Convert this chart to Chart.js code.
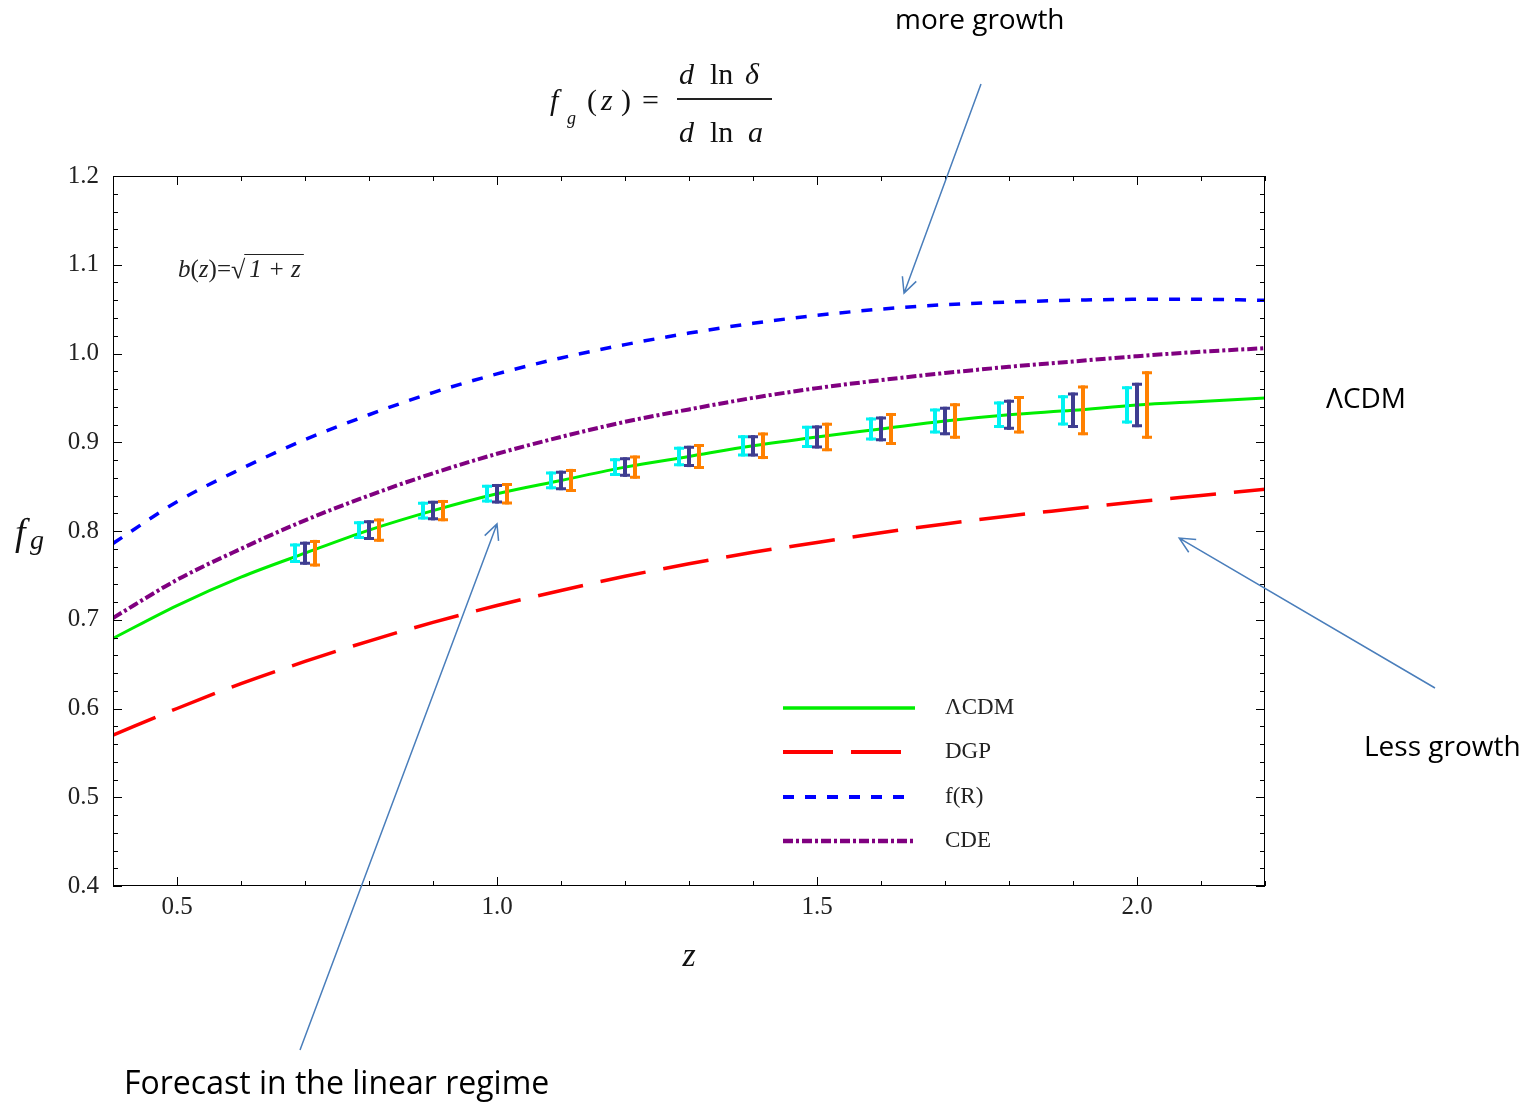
<!DOCTYPE html>
<html>
<head>
<meta charset="utf-8">
<script src="https://cdn.jsdelivr.net/npm/chart.js@4.4.1/dist/chart.umd.min.js"></script>
<style>
  html, body { margin: 0; padding: 0; background: #fff; }
  #wrap { width: 1536px; height: 1106px; }
</style>
</head>
<body>
<div id="wrap"><canvas id="growthChart" width="1536" height="1106"></canvas></div>
<script>
// redshift grid used for the model curves
const zGrid = [0.4, 0.5, 0.6, 0.7, 0.8, 0.9, 1.0, 1.1, 1.2, 1.3, 1.4, 1.5, 1.6, 1.7, 1.8, 1.9, 2.0, 2.1, 2.2];
const lcdmVals = [0.679, 0.716, 0.748, 0.775, 0.801, 0.823, 0.842, 0.857, 0.872, 0.884, 0.896, 0.906, 0.915, 0.924, 0.931, 0.936, 0.942, 0.946, 0.950];
const dgpVals = [0.570, 0.600, 0.628, 0.653, 0.676, 0.697, 0.716, 0.733, 0.749, 0.763, 0.776, 0.787, 0.798, 0.808, 0.817, 0.825, 0.833, 0.840, 0.847];
const fRVals = [0.786, 0.833, 0.870, 0.903, 0.931, 0.956, 0.977, 0.995, 1.010, 1.023, 1.034, 1.043, 1.050, 1.055, 1.058, 1.060, 1.061, 1.061, 1.060];
const cdeVals = [0.702, 0.745, 0.780, 0.812, 0.840, 0.865, 0.887, 0.906, 0.923, 0.937, 0.950, 0.961, 0.970, 0.978, 0.985, 0.991, 0.997, 1.002, 1.006];

// forecast error bars (three surveys per redshift bin)
const errZ = [0.7, 0.8, 0.9, 1.0, 1.1, 1.2, 1.3, 1.4, 1.5, 1.6, 1.7, 1.8, 1.9, 2.0];
const errCenter = [0.775, 0.801, 0.823, 0.842, 0.857, 0.872, 0.884, 0.896, 0.906, 0.915, 0.924, 0.931, 0.936, 0.942];
const errCyan = [0.011, 0.010, 0.010, 0.010, 0.010, 0.010, 0.011, 0.012, 0.0125, 0.013, 0.014, 0.015, 0.017, 0.021];
const errNavy = [0.013, 0.011, 0.011, 0.011, 0.011, 0.011, 0.012, 0.012, 0.013, 0.014, 0.016, 0.017, 0.020, 0.025];
const errOrange = [0.015, 0.013, 0.012, 0.012, 0.013, 0.013, 0.014, 0.015, 0.016, 0.018, 0.020, 0.021, 0.028, 0.038];

const xTickVals = [0.5, 1.0, 1.5, 2.0];
const legendLabels = ['\u039BCDM', 'DGP', 'f(R)', 'CDE'];

function toPoints(ys) {
    return zGrid.map((z, i) => ({ x: z, y: ys[i] }));
}

const serif = '"Liberation Serif", "DejaVu Serif", serif';
const sans = '"Open Sans", "Liberation Sans", sans-serif';
const arrowColor = '#4a7ebb';

const modelStyles = [
    { color: '#00ee00', width: 3, dash: [] },
    { color: '#ff0000', width: 3.5, dash: [46, 18] },
    { color: '#0000ff', width: 3.5, dash: [11, 11] },
    { color: '#800080', width: 4, dash: [10, 3, 3, 3] }
];

// draw a run of text pieces left to right, each with its own font
function drawRun(ctx, x, y, pieces) {
    pieces.forEach(p => {
        ctx.font = p.font;
        ctx.fillText(p.text, x + (p.dx || 0), y + (p.dy || 0));
        x += ctx.measureText(p.text).width + (p.dx || 0) + (p.gap || 0);
    });
    return x;
}

// error bars, frame ticks, legend and annotations
const decorPlugin = {
    id: 'decor',
    afterDatasetsDraw(chart) {
        const ctx = chart.ctx;
        const xs = chart.scales.x, ys = chart.scales.y;
        const bars = [
            { errs: errCyan, color: '#00f2f2', dx: -10 },
            { errs: errNavy, color: '#3f3d91', dx: 0 },
            { errs: errOrange, color: '#ff8000', dx: 10 }
        ];
        ctx.save();
        bars.forEach(b => {
            ctx.strokeStyle = b.color;
            errZ.forEach((z, i) => {
                const px = xs.getPixelForValue(z) + b.dx;
                const top = ys.getPixelForValue(errCenter[i] + b.errs[i]);
                const bot = ys.getPixelForValue(errCenter[i] - b.errs[i]);
                ctx.lineWidth = 4;
                ctx.beginPath();
                ctx.moveTo(px, top); ctx.lineTo(px, bot);
                ctx.stroke();
                ctx.lineWidth = 3;
                ctx.beginPath();
                ctx.moveTo(px - 5, top + 1.5); ctx.lineTo(px + 5, top + 1.5);
                ctx.moveTo(px - 5, bot - 1.5); ctx.lineTo(px + 5, bot - 1.5);
                ctx.stroke();
            });
        });
        ctx.restore();
    },
    afterDraw(chart) {
        const ctx = chart.ctx;
        const a = chart.chartArea;
        const xs = chart.scales.x, ys = chart.scales.y;
        ctx.save();

        // frame
        ctx.strokeStyle = '#000';
        ctx.lineWidth = 1;
        ctx.strokeRect(a.left + 0.5, a.top + 0.5, a.right - a.left - 1, a.bottom - a.top - 1);

        // inward ticks on all four sides
        ctx.beginPath();
        for (let k = 4; k <= 22; k++) {
            const px = Math.round(xs.getPixelForValue(k / 10)) + 0.5;
            const len = (k % 5 === 0) ? 9 : 5;
            ctx.moveTo(px, a.bottom); ctx.lineTo(px, a.bottom - len);
            ctx.moveTo(px, a.top); ctx.lineTo(px, a.top + len);
        }
        for (let k = 20; k <= 60; k++) {
            const py = Math.round(ys.getPixelForValue(k / 50)) + 0.5;
            const len = (k % 5 === 0) ? 9 : 5;
            ctx.moveTo(a.left, py); ctx.lineTo(a.left + len, py);
            ctx.moveTo(a.right, py); ctx.lineTo(a.right - len, py);
        }
        ctx.stroke();

        // legend inside the plot
        const rowY = [708, 752, 797, 841];
        modelStyles.forEach((s, i) => {
            ctx.strokeStyle = s.color;
            ctx.lineWidth = s.width + 0.5;
            ctx.setLineDash(i === 1 ? [50, 18] : s.dash);
            ctx.beginPath();
            ctx.moveTo(783, rowY[i]); ctx.lineTo(915, rowY[i]);
            ctx.stroke();
            ctx.setLineDash([]);
            ctx.fillStyle = '#222';
            ctx.font = '23px ' + serif;
            ctx.textBaseline = 'middle';
            ctx.textAlign = 'left';
            ctx.fillText(legendLabels[i], 945, rowY[i]);
        });

        // b(z) label
        ctx.fillStyle = '#222';
        ctx.textBaseline = 'alphabetic';
        ctx.textAlign = 'left';
        const fi = 'italic 25px ' + serif, fr = '25px ' + serif;
        let bx = drawRun(ctx, 178, 277, [
            { text: 'b', font: fi }, { text: '(', font: fr }, { text: 'z', font: fi },
            { text: ')=', font: fr }, { text: '\u221A', font: '26px ' + serif, dy: 1 }
        ]);
        const barStart = bx - 1;
        bx = drawRun(ctx, bx + 4, 277, [{ text: '1 + z', font: fi }]);
        ctx.lineWidth = 1.2;
        ctx.strokeStyle = '#222';
        ctx.beginPath();
        ctx.moveTo(barStart, 254.5); ctx.lineTo(bx + 3, 254.5);
        ctx.stroke();

        // axis titles
        ctx.fillStyle = '#111';
        ctx.font = 'italic 38px ' + serif;
        ctx.fillText('f', 15, 545);
        ctx.font = 'italic 28px ' + serif;
        ctx.fillText('g', 30, 549);
        ctx.font = 'italic 34px ' + serif;
        ctx.textAlign = 'center';
        ctx.fillText('z', (a.left + a.right) / 2, 966);

        // formula
        ctx.textAlign = 'left';
        ctx.font = 'italic 30px ' + serif;
        ctx.fillText('f', 550, 110);
        ctx.font = 'italic 18px ' + serif;
        ctx.fillText('g', 567, 124);
        ctx.font = '30px ' + serif;
        ctx.fillText('(', 587, 110);
        ctx.font = 'italic 30px ' + serif;
        ctx.fillText('z', 601, 110);
        ctx.font = '30px ' + serif;
        ctx.fillText(')', 621, 110);
        ctx.fillText('=', 642, 110);
        ctx.font = 'italic 30px ' + serif;
        ctx.fillText('d', 679, 84);
        ctx.fillText('d', 679, 142);
        ctx.font = '30px ' + serif;
        ctx.fillText('ln', 710, 84);
        ctx.fillText('ln', 710, 142);
        ctx.font = 'italic 30px ' + serif;
        ctx.fillText('\u03B4', 745, 84);
        ctx.fillText('a', 748, 142);
        ctx.lineWidth = 2;
        ctx.beginPath();
        ctx.moveTo(677, 99); ctx.lineTo(772, 99);
        ctx.stroke();

        // annotations
        ctx.fillStyle = '#000';
        ctx.textBaseline = 'middle';
        ctx.font = '28px ' + sans;
        ctx.fillText('more growth', 895, 21);
        ctx.fillText('\u039BCDM', 1326, 400);
        ctx.fillText('Less growth', 1364, 748);
        ctx.font = '32px ' + sans;
        ctx.fillText('Forecast in the linear regime', 124, 1085);

        // arrows: tails in page pixels, heads at data positions
        const arrows = [
            { from: [981, 84], to: [1.636, 1.068] },
            { from: [1435, 688], to: [2.066, 0.792] },
            { from: [300, 1050], to: [1.0, 0.808] }
        ];
        ctx.strokeStyle = arrowColor;
        ctx.lineWidth = 1.5;
        arrows.forEach(ar => {
            const x0 = ar.from[0], y0 = ar.from[1];
            const x1 = xs.getPixelForValue(ar.to[0]), y1 = ys.getPixelForValue(ar.to[1]);
            const ang = Math.atan2(y1 - y0, x1 - x0);
            ctx.beginPath();
            ctx.moveTo(x0, y0); ctx.lineTo(x1, y1);
            const h = 17, sp = 0.45;
            ctx.moveTo(x1 - h * Math.cos(ang - sp), y1 - h * Math.sin(ang - sp));
            ctx.lineTo(x1, y1);
            ctx.lineTo(x1 - h * Math.cos(ang + sp), y1 - h * Math.sin(ang + sp));
            ctx.stroke();
        });
        ctx.restore();
    }
};

const datasets = [lcdmVals, dgpVals, fRVals, cdeVals].map((vals, i) => ({
    label: legendLabels[i],
    data: toPoints(vals),
    borderColor: modelStyles[i].color,
    borderWidth: modelStyles[i].width,
    borderDash: modelStyles[i].dash,
    pointRadius: 0,
    fill: false,
    cubicInterpolationMode: 'monotone'
}));

const growthChart = new Chart(document.getElementById('growthChart').getContext('2d'), {
    type: 'line',
    data: { datasets: datasets },
    options: {
        responsive: false,
        animation: false,
        devicePixelRatio: 1,
        layout: { padding: { left: 53, right: 271, top: 176, bottom: 170 } },
        plugins: {
            legend: { display: false },
            tooltip: { enabled: false }
        },
        scales: {
            x: {
                type: 'linear',
                min: 0.4,
                max: 2.2,
                afterFit: s => { s.height = 50; },
                afterBuildTicks: s => { s.ticks = xTickVals.map(v => ({ value: v })); },
                grid: { display: false },
                border: { display: false },
                ticks: {
                    color: '#222',
                    padding: -2,
                    font: { family: serif, size: 25 },
                    callback: v => v.toFixed(1)
                }
            },
            y: {
                min: 0.4,
                max: 1.2,
                afterFit: s => { s.width = 60; },
                grid: { display: false },
                border: { display: false },
                ticks: {
                    stepSize: 0.1,
                    color: '#222',
                    padding: 6,
                    font: { family: serif, size: 25 },
                    callback: v => v.toFixed(1)
                }
            }
        }
    },
    plugins: [decorPlugin]
});
</script>
</body>
</html>
